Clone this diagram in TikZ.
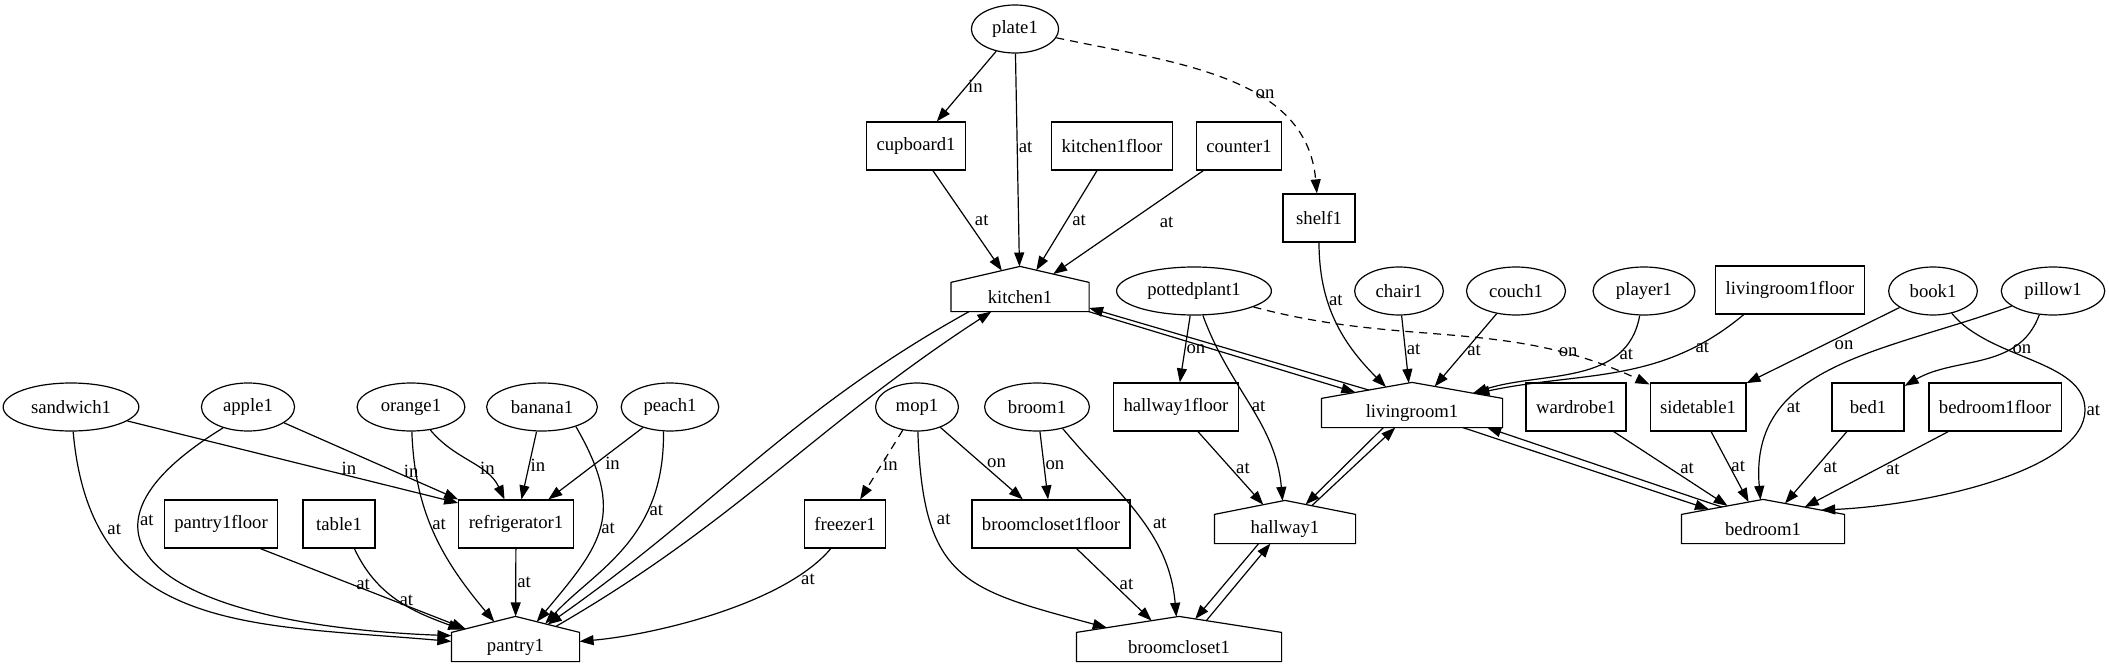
\documentclass[tikz,border=0pt]{standalone}
\usepackage{fontspec}
\setmainfont{Liberation Serif}
\usetikzlibrary{shapes.geometric, arrows.meta}

% house outline: a box with a pointed roof on top
\makeatletter
\pgfkeys{/pgf/house roof/.initial=16pt}
\pgfdeclareshape{house}{%
  \inheritsavedanchors[from=rectangle]%
  \inheritanchor[from=rectangle]{center}%
  \inheritanchor[from=rectangle]{text}%
  \inheritanchor[from=rectangle]{north}%
  \inheritanchor[from=rectangle]{south}%
  \inheritanchor[from=rectangle]{east}%
  \inheritanchor[from=rectangle]{west}%
  \saveddimen\houseroof{\pgfmathsetlength\pgf@x{\pgfkeysvalueof{/pgf/house roof}}}%
  \backgroundpath{%
    \southwest\edef\hs@l{\the\pgf@x}\edef\hs@b{\the\pgf@y}%
    \northeast\edef\hs@r{\the\pgf@x}\edef\hs@t{\the\pgf@y}%
    \pgf@xc=.5\pgf@x\advance\pgf@xc by.5\dimexpr\hs@l\relax
    \pgf@yc=\pgf@y\advance\pgf@yc by\houseroof
    \edef\hs@mx{\the\pgf@xc}\edef\hs@my{\the\pgf@yc}%
    \pgfpathmoveto{\pgfqpoint{\hs@l}{\hs@b}}%
    \pgfpathlineto{\pgfqpoint{\hs@l}{\hs@t}}%
    \pgfpathlineto{\pgfqpoint{\hs@mx}{\hs@my}}%
    \pgfpathlineto{\pgfqpoint{\hs@r}{\hs@t}}%
    \pgfpathlineto{\pgfqpoint{\hs@r}{\hs@b}}%
    \pgfpathclose
  }%
  \anchorborder{%
    \edef\hs@dx{\the\pgf@x}\edef\hs@dy{\the\pgf@y}%
    \southwest\pgf@xa=\pgf@x\pgf@ya=\pgf@y
    \northeast\pgf@xb=\pgf@x\pgf@yb=\pgf@y
    \pgf@xc=.5\pgf@xb\advance\pgf@xc by-.5\pgf@xa
    \pgf@yc=.5\pgf@yb\advance\pgf@yc by-.5\pgf@ya
    \advance\pgf@xa by\pgf@xc\advance\pgf@ya by\pgf@yc
    \edef\hs@cx{\the\pgf@xa}\edef\hs@cy{\the\pgf@ya}%
    \edef\hs@w{\the\pgf@xc}\edef\hs@h{\the\pgf@yc}%
    \pgfpointborderrectangle{\pgfqpoint{\hs@dx}{\hs@dy}}{\pgfqpoint{\hs@w}{\hs@h}}%
    \ifdim\pgf@y<\dimexpr\hs@h-0.01pt\relax
    \else
      \pgfmathsetmacro\hs@k{(\hs@h+\houseroof)/(\hs@dy+\houseroof*abs(\hs@dx)/\hs@w)}%
      \pgfmathsetlength\pgf@xa{\hs@k*\hs@dx}%
      \pgfmathsetlength\pgf@ya{\hs@k*\hs@dy}%
      \pgf@x=\pgf@xa\pgf@y=\pgf@ya
    \fi
    \advance\pgf@x by\hs@cx
    \advance\pgf@y by\hs@cy
  }%
}
\makeatother

\begin{document}
\begin{tikzpicture}[x=1pt, y=-1pt,
  font=\fontsize{18.7}{22}\selectfont,
  thing/.style={ellipse, draw, line width=1.2pt, minimum width=72pt, minimum height=48pt, inner xsep=8pt, inner ysep=2pt},
  spot/.style={rectangle, draw, line width=1.2pt, minimum width=72pt, minimum height=48pt, inner xsep=10pt},
  room/.style={house, draw, line width=1.2pt, minimum height=28pt, inner sep=0pt, house roof=#1},
  room/.default=16pt,
  link/.style={-{Triangle[length=14pt, width=10pt]}, line width=1.2pt},
  maybe/.style={link, dash pattern=on 8pt off 6pt},
  lbl/.style={inner sep=1pt}]
  \useasboundingbox (0,0) rectangle (2109,671);

  % kitchen
  \node[thing] (plate1) at (1015,29) {plate1};
  \node[spot] (cupboard1) at (916,146) {cupboard1};
  \node[spot] (kitchen1floor) at (1112,146) {kitchen1floor};
  \node[spot] (counter1) at (1239,146) {counter1};
  \node[spot] (shelf1) at (1319,218) {shelf1};
  \node[room, minimum width=137pt] (kitchen1) at (1020,297) {kitchen1};

  % living room row
  \node[thing] (pottedplant1) at (1194,291) {pottedplant1};
  \node[thing] (chair1) at (1399,291) {chair1};
  \node[thing] (couch1) at (1516,291) {couch1};
  \node[thing] (player1) at (1644,291) {player1};
  \node[spot] (livingroom1floor) at (1790,290) {livingroom1floor};
  \node[thing] (book1) at (1933,291) {book1};
  \node[thing] (pillow1) at (2053,291) {pillow1};

  % middle row
  \node[thing] (sandwich1) at (71,407) {sandwich1};
  \node[thing] (apple1) at (248,407) {apple1};
  \node[thing] (orange1) at (411,407) {orange1};
  \node[thing] (banana1) at (542,407) {banana1};
  \node[thing] (peach1) at (670,407) {peach1};
  \node[thing] (mop1) at (917,407) {mop1};
  \node[thing] (broom1) at (1037,407) {broom1};
  \node[spot] (hallway1floor) at (1176,407) {hallway1floor};
  \node[room, minimum width=180pt] (livingroom1) at (1412,413) {livingroom1};
  \node[spot] (wardrobe1) at (1576,407) {wardrobe1};
  \node[spot] (sidetable1) at (1698,407) {sidetable1};
  \node[spot] (bed1) at (1868,407) {bed1};
  \node[spot] (bedroom1floor) at (1995,407) {bedroom1floor};

  % lower rows
  \node[spot] (pantry1floor) at (221,524) {pantry1floor};
  \node[spot] (table1) at (339,524) {table1};
  \node[spot] (refrigerator1) at (516,524) {refrigerator1};
  \node[spot] (freezer1) at (845,524) {freezer1};
  \node[spot] (broomcloset1floor) at (1051,524) {broomcloset1floor};
  \node[room=14pt, minimum width=140pt] (hallway1) at (1285,529) {hallway1};
  \node[room=15pt, minimum width=162pt] (bedroom1) at (1763,529) {bedroom1};
  \node[room, minimum width=127pt] (pantry1) at (515.5,647) {pantry1};
  \node[room, minimum width=204pt] (broomcloset1) at (1179,647) {broomcloset1};

  % pantry
  \draw[link] (sandwich1) -- node[lbl, pos=.67, above] {in} (refrigerator1.160);
  \draw[link] (apple1) -- node[lbl, pos=.73, above] {in} (refrigerator1.north west);
  \draw[link] (orange1) to[out=-50, in=115] node[lbl, pos=.6, right] {in} (refrigerator1);
  \draw[link] (banana1) -- node[lbl, pos=.5, right] {in} (refrigerator1);
  \draw[link] (peach1) -- node[lbl, pos=.5, right=8pt] {in} (refrigerator1);
  \draw[link] (sandwich1.-85) to[out=-85, in=175, looseness=1.2] node[lbl, pos=.2, right=6pt] {at} (pantry1);
  \draw[link] (apple1.-140) .. controls (40,540) and (170,625) .. node[lbl, pos=.3, right] {at} (pantry1.170);
  \draw[link] (orange1) to[out=-88, in=130] node[lbl, pos=.45, right] {at} (pantry1);
  \draw[link] (banana1.-30) to[out=-60, in=50, looseness=1.3] node[lbl, pos=.5, right] {at} (pantry1);
  \draw[link] (peach1.-105) .. controls (665,540) and (595,570) .. node[lbl, pos=.3, right] {at} (pantry1.38);
  \draw[link] (pantry1floor.-32) -- node[lbl, pos=.5, above=-3pt] {at} (pantry1.160);
  \draw[link] (table1.-58) to[out=-65, in=160] node[lbl, pos=.5, right] {at} (pantry1.162);
  \draw[link] (refrigerator1) -- node[lbl, pos=.5, right] {at} (pantry1);
  \draw[link] (freezer1.-120) to[out=-130, in=5, looseness=.7] node[lbl, pos=.2, right=6pt] {at} (pantry1.5);
  \draw[link] (kitchen1.-164) to[out=-151, in=35] (pantry1.35);
  \draw[link] (pantry1.27) to[out=30, in=-147] (kitchen1.-153);

  % kitchen
  \draw[link] (plate1) -- node[lbl, pos=.5, right] {in} (cupboard1);
  \draw[link] (plate1) -- node[lbl, pos=.44, right] {at} (kitchen1);
  \draw[maybe] (plate1) to[out=-12, in=95] node[lbl, pos=.6, right] {on} (shelf1);
  \draw[link] (cupboard1) -- node[lbl, pos=.5, right=6pt] {at} (kitchen1);
  \draw[link] (kitchen1floor) -- node[lbl, pos=.5, right=4pt] {at} (kitchen1);
  \draw[link] (counter1) -- node[lbl, pos=.5, right=30pt] {at} (kitchen1);
  \draw[link] (shelf1) to[out=-90, in=135] node[lbl, pos=.35, right] {at} (livingroom1);
  \draw[link] (kitchen1.-12) -- (livingroom1.160);
  \draw[link] (livingroom1.152) -- (kitchen1.-9);

  % living room
  \draw[link] (pottedplant1) -- node[lbl, pos=.5, right] {on} (hallway1floor);
  \draw[link] (pottedplant1.-70) to[out=-70, in=95] node[lbl, pos=.5, right] {at} (hallway1);
  \draw[maybe] (pottedplant1) to[out=-15, in=155] node[lbl, pos=.8, above=-4pt] {on} (sidetable1);
  \draw[link] (chair1) -- node[lbl, pos=.5, right] {at} (livingroom1);
  \draw[link] (couch1) -- node[lbl, pos=.5, right] {at} (livingroom1);
  \draw[link] (player1.-100) to[out=-100, in=18] node[lbl, pos=.25, right] {at} (livingroom1);
  \draw[link] (livingroom1floor.-152) to[out=-140, in=12] node[lbl, pos=.2, right] {at} (livingroom1.17);

  % bedroom
  \draw[link] (book1) -- node[lbl, pos=.5, right=10pt] {on} (sidetable1);
  \draw[link] (book1.-50) .. controls (1990,360) and (2085,360) .. (2085,410) node[lbl, right] {at}
    .. controls (2085,470) and (1930,505) .. (bedroom1.18);
  \draw[link] (pillow1.-120) to[out=-110, in=30] node[lbl, pos=.3, right] {on} (bed1);
  \draw[link] (pillow1.-160) to[out=-160, in=95, looseness=1.1] node[lbl, pos=.7, right] {at} (bedroom1);
  \draw[link] (livingroom1.-16) -- (bedroom1.160);
  \draw[link] (bedroom1.152) -- (livingroom1.-11);
  \draw[link] (wardrobe1) -- node[lbl, pos=.5, right=8pt] {at} (bedroom1);
  \draw[link] (sidetable1) -- node[lbl, pos=.5, right] {at} (bedroom1);
  \draw[link] (bed1) -- node[lbl, pos=.5, right=6pt] {at} (bedroom1);
  \draw[link] (bedroom1floor) -- node[lbl, pos=.5, right=8pt] {at} (bedroom1);

  % hallway and broom closet
  \draw[link] (hallway1floor) -- node[lbl, pos=.5, right=4pt] {at} (hallway1);
  \draw[link] (livingroom1.-153) -- (hallway1.50);
  \draw[link] (hallway1.41) -- (livingroom1.-139);
  \draw[link] (hallway1.-151) -- (broomcloset1.60);
  \draw[link] (broomcloset1.44) -- (hallway1.-135);
  \draw[maybe] (mop1) -- node[lbl, pos=.5, right] {in} (freezer1);
  \draw[link] (mop1) -- node[lbl, pos=.5, right=4pt] {on} (broomcloset1floor);
  \draw[link] (mop1.-88) to[out=-88, in=165, looseness=1.4] node[lbl, pos=.25, right=6pt] {at} (broomcloset1);
  \draw[link] (broom1) -- node[lbl, pos=.5, right] {on} (broomcloset1floor);
  \draw[link] (broom1.-40) to[out=-50, in=95] node[lbl, pos=.55, right=8pt] {at} (broomcloset1);
  \draw[link] (broomcloset1floor) -- node[lbl, pos=.5, right=4pt] {at} (broomcloset1);
\end{tikzpicture}
\end{document}
